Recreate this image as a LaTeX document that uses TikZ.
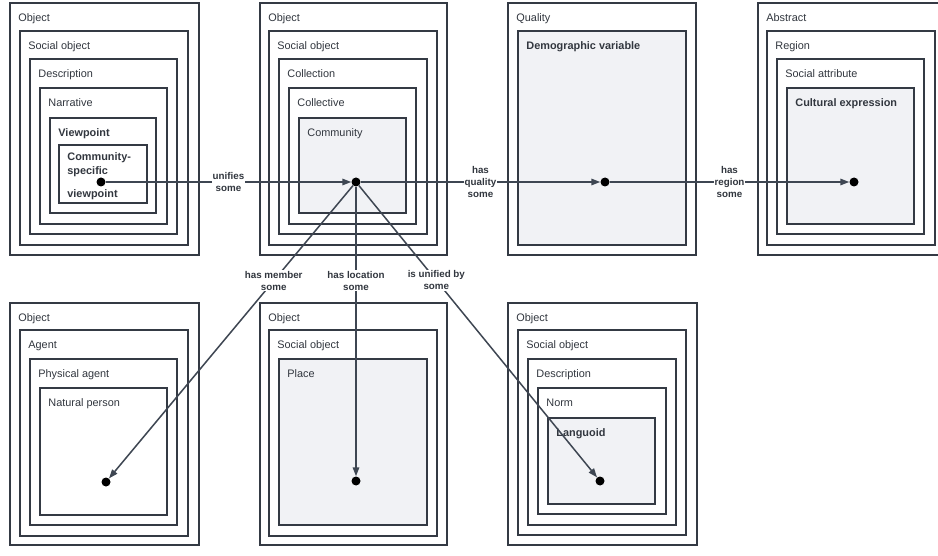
\documentclass[tikz,border=0pt]{standalone}
\usepackage{fontspec}
\setmainfont{Liberation Sans}
\usetikzlibrary{arrows.meta,fit}
\definecolor{cline}{RGB}{52,58,68}
\definecolor{cconn}{RGB}{62,70,82}
\definecolor{cfill}{RGB}{241,242,245}
\definecolor{ctext}{RGB}{50,55,63}
\newcommand{\boxfont}{\fontsize{10.9}{14}\selectfont}
\newcommand{\relfont}{\fontsize{9.8}{12}\selectfont\bfseries}

\begin{document}
\begin{tikzpicture}[x=1pt,y=-1pt,>={Triangle[length=9pt,width=6.5pt]},
box/.style={draw=cline,line width=1.6pt,fill=white,inner sep=0pt},
grey/.style={box,fill=cfill},
lbl/.style={inner sep=0pt,text=ctext,anchor=base west,xshift=9pt,yshift=-19pt,font=\boxfont},
tag/.style={label={[lbl]north west:#1}},
btag/.style={label={[lbl,font=\boxfont\bfseries]north west:#1}},
dot/.style={circle,fill=black,inner sep=0pt,minimum size=9pt},
rel/.style={fill=white,inner sep=1pt,align=center,text=ctext,font=\relfont},
conn/.style={->,draw=cconn,line width=1.5pt}]
\useasboundingbox (0,0) rectangle (938,556);
% top row of classes
\node[box,fit={(10,3)(199,255)},tag=Object] (obj1) {};
\node[box,fit={(20,31)(188,245)},tag=Social object] (soc1) {};
\node[box,fit={(30,59)(177,234)},tag=Description] (desc1) {};
\node[box,fit={(40,88)(167,224)},tag=Narrative] (narr) {};
\node[box,fit={(50,118)(156,213)},btag=Viewpoint] (view) {};
\node[box,fit={(59,145)(147,203)},
  label={[lbl,font=\boxfont\bfseries,align=left,yshift=-11pt]north west:Community-\\specific},
  label={[lbl,font=\boxfont\bfseries,yshift=-34pt]north west:viewpoint}] (csview) {};
\node[box,fit={(260,3)(447,255)},tag=Object] (obj2) {};
\node[box,fit={(269,31)(437,245)},tag=Social object] (soc2) {};
\node[box,fit={(279,59)(427,234)},tag=Collection] (coll) {};
\node[box,fit={(289,88)(416,224)},tag=Collective] (collv) {};
\node[grey,fit={(299,118)(406,213)},tag=Community] (comm) {};
\node[box,fit={(508,3)(696,255)},tag=Quality] (qual) {};
\node[grey,fit={(518,31)(686,245)},btag=Demographic variable] (demo) {};
\node[box,fit={(758,3)(946,255)},tag=Abstract] (abs) {};
\node[box,fit={(767,31)(935,245)},tag=Region] (reg) {};
\node[box,fit={(777,59)(924,234)},tag=Social attribute] (sattr) {};
\node[grey,fit={(787,88)(914,224)},btag=Cultural expression] (cult) {};
% bottom row of classes
\node[box,fit={(10,303)(199,545)},tag=Object] (obj5) {};
\node[box,fit={(20,330)(188,536)},tag=Agent] (agent) {};
\node[box,fit={(30,359)(177,525)},tag=Physical agent] (pagent) {};
\node[box,fit={(40,388)(167,515)},tag=Natural person] (nperson) {};
\node[box,fit={(260,303)(447,545)},tag=Object] (obj6) {};
\node[box,fit={(269,330)(437,536)},tag=Social object] (soc6) {};
\node[grey,fit={(279,359)(427,525)},tag=Place] (place) {};
\node[box,fit={(508,303)(697,545)},tag=Object] (obj7) {};
\node[box,fit={(518,330)(686,535)},tag=Social object] (soc7) {};
\node[box,fit={(528,359)(676,525)},tag=Description] (desc7) {};
\node[box,fit={(538,388)(666,514)},tag=Norm] (norm) {};
\node[grey,fit={(548,418)(655,504)},btag=Languoid] (lang) {};
% individuals
\node[dot] (cv) at (101,182) {};
\node[dot] (cm) at (356,182) {};
\node[dot] (dv) at (605,182) {};
\node[dot] (ce) at (854,182) {};
\node[dot] (np) at (106,482) {};
\node[dot] (pl) at (356,481) {};
\node[dot] (lg) at (600,481) {};
% relations
\draw[conn] (cv) -- node[rel] (unifies) {unifies\\some} (cm);
\draw[conn] (cm) -- node[rel] (hasqual) {has\\quality\\some} (dv);
\draw[conn] (dv) -- node[rel] (hasreg) {has\\region\\some} (ce);
\draw[conn] (cm) -- node[rel,pos=0.325] (hasmem) {has member\\some} (np);
\draw[conn] (cm) -- node[rel,pos=0.325] (hasloc) {has location\\some} (pl);
\draw[conn] (cm) -- node[rel,pos=0.325] (unifby) {is unified by\\some} (lg);
\end{tikzpicture}
\end{document}
